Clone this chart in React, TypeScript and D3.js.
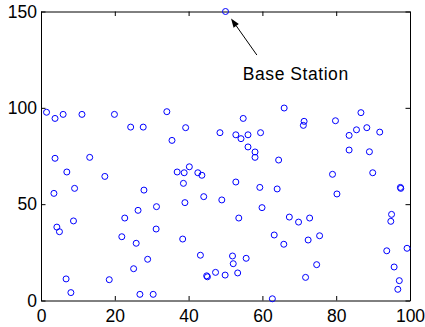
import { useRef, useEffect } from "react";
import * as d3 from "d3";

// sensor node positions (x, y)
const nodeX = [
  1.5, 3.8, 6.0, 11.1, 19.9, 24.3, 27.7, 34.1, 35.5, 39.2, 48.5, 3.8, 13.2,
  54.8, 52.8, 54.2, 56.1, 59.5, 56.1, 58.0, 58.0, 64.4, 65.9, 71.3, 71.1, 79.8, 86.7, 85.5, 88.3, 91.8, 83.5, 83.5, 89.0,
  7.0, 17.3, 3.5, 9.1, 4.3, 5.0, 8.8, 6.8, 8.1, 18.5, 22.7, 21.9, 26.3, 27.9, 25.8, 25.1, 28.9, 26.8, 30.4, 31.3, 31.2,
  36.9, 38.8, 40.2, 42.5, 43.6, 38.6, 39.0, 44.1, 38.4, 43.2, 44.9, 45.1, 47.3,
  49.9, 49.0, 52.8, 53.6, 51.9, 52.1, 53.3, 55.6, 59.3, 59.9, 64.0, 63.2, 65.8, 62.7, 67.3, 69.8, 72.8, 72.4, 75.5,
  74.7, 71.7, 79.0, 80.2, 89.9, 97.4, 97.5, 95.0, 94.8, 93.7, 99.2, 95.7, 97.1, 96.7,
];
const nodeY = [
  97.7, 94.5, 96.6, 96.6, 96.6, 90.0, 90.0, 98.0, 83.1, 89.7, 87.1, 73.8, 74.3,
  94.5, 86.0, 84.0, 86.0, 87.1, 79.7, 77.1, 74.3, 72.9, 99.9, 93.0, 90.9, 93.3, 97.5, 88.6, 89.7, 87.4, 85.7, 78.1, 77.2,
  66.7, 64.4, 55.6, 58.2, 38.1, 35.7, 41.3, 11.2, 4.1, 10.8, 42.8, 33.1, 46.8, 57.3, 29.7, 16.5, 21.4, 3.2, 3.2, 48.7, 37.1,
  66.7, 66.3, 69.4, 66.3, 65.0, 60.8, 50.8, 53.9, 31.9, 23.5, 12.8, 12.3, 14.6,
  13.2, 52.2, 61.5, 42.8, 23.1, 19.1, 14.3, 21.9, 58.7, 48.2, 57.9, 34.0, 29.2, 0.9, 43.3, 40.7, 42.8, 31.4, 33.6,
  18.6, 12.0, 65.5, 55.3, 66.3, 58.7, 58.2, 44.7, 41.1, 25.8, 27.1, 17.4, 10.3, 5.8,
];

const baseStation = [50, 150];
const arrowFrom = [58.5, 127.4];
const arrowTo = [51.5, 146.4];
const labelAt = [54.7, 114.4];
const labelText = "Base Station";

const xTicks = [0, 20, 40, 60, 80, 100];
const yTicks = [0, 50, 100, 150];

const W = 425;
const H = 327;

export default function App() {
  const svgRef = useRef<SVGSVGElement>(null);

  useEffect(() => {
    if (!svgRef.current) return;
    const svg = d3.select(svgRef.current);
    svg.selectAll("*").remove();

    const m = { top: 11.5, right: 15, bottom: 26.5, left: 41 };
    const x = d3.scaleLinear().domain([0, 100]).range([m.left, W - m.right]);
    const y = d3.scaleLinear().domain([0, 150]).range([H - m.bottom, m.top]);
    const font = "'Liberation Sans', Arial, Helvetica, sans-serif";

    // Axes (ticks inside, box all round)
    const styleAxis = (g: any) => {
      g.select(".domain").attr("stroke", "#000").attr("stroke-width", 1);
      g.selectAll(".tick line").attr("stroke", "#000").attr("stroke-width", 1);
      g.selectAll(".tick text").attr("fill", "#000").attr("font-size", 17.5).attr("font-family", font);
    };
    svg.append("g").attr("transform", `translate(0,${y(0)})`)
      .call(d3.axisBottom(x).tickValues(xTicks).tickSizeInner(-4.5).tickSizeOuter(0).tickPadding(9.5))
      .call(styleAxis);
    svg.append("g").attr("transform", `translate(${x(0)},0)`)
      .call(d3.axisLeft(y).tickValues(yTicks).tickSizeInner(-4.5).tickSizeOuter(0).tickPadding(4))
      .call(styleAxis);
    svg.append("g").attr("transform", `translate(0,${y(150)})`)
      .call(d3.axisTop(x).tickValues(xTicks).tickSizeInner(-4.5).tickSizeOuter(0).tickFormat(() => ""))
      .call(styleAxis);
    svg.append("g").attr("transform", `translate(${x(100)},0)`)
      .call(d3.axisRight(y).tickValues(yTicks).tickSizeInner(-4.5).tickSizeOuter(0).tickFormat(() => ""))
      .call(styleAxis);

    // Nodes
    const pts = nodeX.map((v, i) => [v, nodeY[i]]);
    pts.push(baseStation);
    svg.append("g").selectAll("circle").data(pts).join("circle")
      .attr("cx", d => x(d[0])).attr("cy", d => y(d[1])).attr("r", 3)
      .attr("fill", "none").attr("stroke", "#0000ff").attr("stroke-width", 1);

    // Annotation arrow
    const x1 = x(arrowFrom[0]), y1 = y(arrowFrom[1]);
    const x2 = x(arrowTo[0]), y2 = y(arrowTo[1]);
    const ang = Math.atan2(y2 - y1, x2 - x1);
    const hl = 9, hw = 3.2;
    const bx = x2 - hl * Math.cos(ang), by = y2 - hl * Math.sin(ang);
    svg.append("line")
      .attr("x1", x1).attr("y1", y1).attr("x2", bx).attr("y2", by)
      .attr("stroke", "#000").attr("stroke-width", 1);
    svg.append("path")
      .attr("d", `M${x2},${y2}L${bx + hw * Math.sin(ang)},${by - hw * Math.cos(ang)}L${bx - hw * Math.sin(ang)},${by + hw * Math.cos(ang)}Z`)
      .attr("fill", "#000");
    svg.append("text")
      .attr("x", x(labelAt[0])).attr("y", y(labelAt[1]))
      .attr("font-size", 17.5).attr("letter-spacing", 0.55).attr("font-family", font).attr("fill", "#000")
      .text(labelText);
  }, []);

  return (
    <svg ref={svgRef} width={W} height={H}
      style={{ position: "absolute", left: 0, top: 0, background: "#fff" }} />
  );
}
